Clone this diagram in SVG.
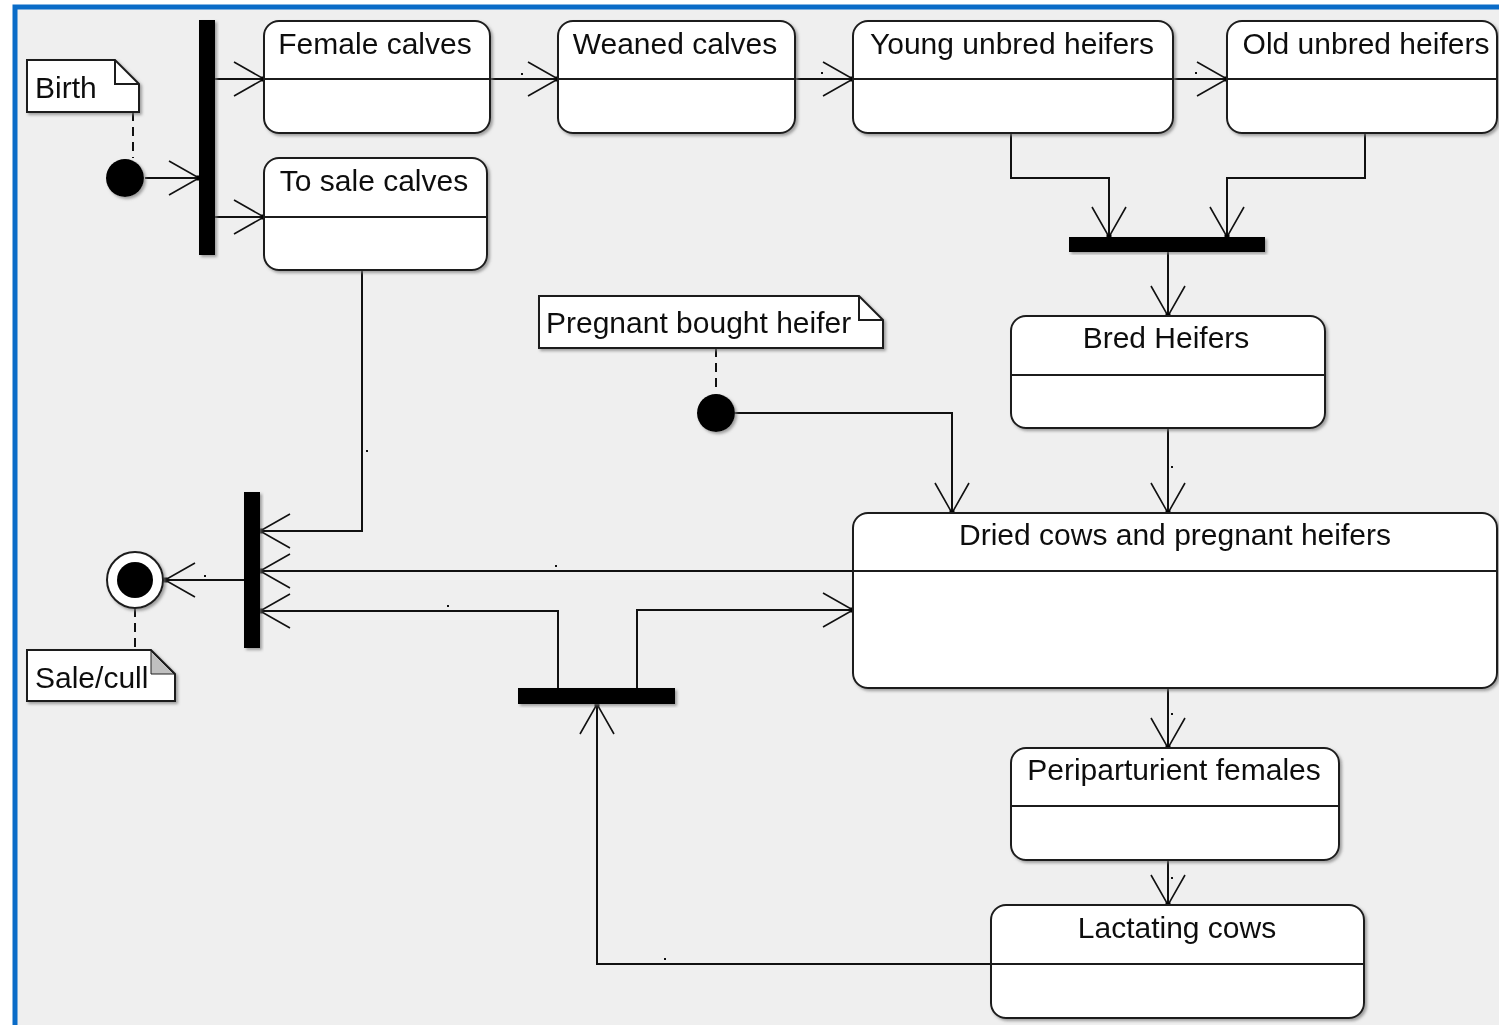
<svg xmlns="http://www.w3.org/2000/svg" width="1499" height="1025" viewBox="0 0 1499 1025">
  <defs>
    <style>
      .frame { fill: #EFEFEF; stroke: #0A6CC8; stroke-width: 5; }
      .box { fill: #FFFFFF; stroke: #1E1E1E; stroke-width: 2; }
      .div { stroke: #1E1E1E; stroke-width: 2; }
      .note { fill: #FFFFFF; stroke: #1E1E1E; stroke-width: 2; stroke-linejoin: miter; }
      .fold { fill: none; stroke: #1E1E1E; stroke-width: 2; }
      .bar { fill: #000000; }
      .lbl { font-family: "Liberation Sans", Arial, sans-serif; font-size: 30px; fill: #111111; }
      .mid { text-anchor: middle; }
      .conn path { fill: none; stroke: #111111; stroke-width: 2; marker-end: url(#open); }
      .anchor path { fill: none; stroke: #111111; stroke-width: 2; stroke-dasharray: 9 6; }
      .tick { fill: #111111; }
    </style>
    <filter id="shadow" x="-10%" y="-10%" width="130%" height="130%">
      <feDropShadow dx="2" dy="2" stdDeviation="1.5" flood-color="#7A7A7A" flood-opacity="0.7"/>
    </filter>
    <marker id="open" markerUnits="userSpaceOnUse" markerWidth="40" markerHeight="40" viewBox="-32 -20 36 40" refX="0" refY="0" orient="auto" overflow="visible">
      <path d="M-30,-17 L0,0 L-30,17" fill="none" stroke="#111111" stroke-width="1.6"/>
      <rect x="-2.5" y="-2.5" width="5" height="5" fill="#000000"/>
    </marker>
  </defs>

  <!-- canvas -->
  <rect x="0" y="0" width="1499" height="1025" fill="#FFFFFF"/>
  <rect class="frame" x="15" y="7" width="1520" height="1060"/>

  <!-- connectors -->
  <g id="connectors">
    <g class="conn">
      <path d="M145,178 H199"/>
      <path d="M215,79 H264"/>
      <path d="M215,217 H264"/>
      <path d="M490,79 H558"/>
      <path d="M795,79 H853"/>
      <path d="M1173,79 H1227"/>
      <path d="M1011,133 V178 H1109 V237"/>
      <path d="M1365,133 V178 H1227 V237"/>
      <path d="M1168,252 V316"/>
      <path d="M1168,428 V513"/>
      <path d="M735,413 H952 V513"/>
      <path d="M1168,688 V748"/>
      <path d="M1168,860 V905"/>
      <path d="M991,964 H597 V704"/>
      <path d="M637,688 V610 H853"/>
      <path d="M558,688 V611 H260"/>
      <path d="M853,571 H260"/>
      <path d="M362,270 V531 H260"/>
      <path d="M244,580 H165"/>
    </g>
    <g class="anchor">
      <path d="M133,112 V158"/>
      <path d="M716,348 V393"/>
      <path d="M135,608 V650"/>
    </g>
    <!-- empty guard labels -->
    <g class="tick">
      <rect x="521" y="73" width="2" height="2"/>
      <rect x="821" y="72" width="2" height="2"/>
      <rect x="1195" y="72" width="2" height="2"/>
      <rect x="366" y="450" width="2" height="2"/>
      <rect x="1171" y="466" width="2" height="2"/>
      <rect x="555" y="565" width="2" height="2"/>
      <rect x="447" y="605" width="2" height="2"/>
      <rect x="204" y="575" width="2" height="2"/>
      <rect x="664" y="958" width="2" height="2"/>
      <rect x="1171" y="713" width="2" height="2"/>
      <rect x="1171" y="877" width="2" height="2"/>
    </g>
  </g>

  <!-- start: birth -->
  <g id="birth-note" filter="url(#shadow)">
    <path class="note" d="M27,60 H115 L139,84 V112 H27 Z"/>
    <path class="fold" d="M115,60 V84 H139"/>
    <text class="lbl" x="35" y="98">Birth</text>
  </g>
  <g id="birth-start" filter="url(#shadow)">
    <circle cx="125" cy="178" r="19" fill="#000000"/>
  </g>
  <g id="birth-fork" filter="url(#shadow)">
    <rect class="bar" x="199" y="20" width="16" height="235"/>
  </g>

  <!-- calf states -->
  <g id="female-calves" filter="url(#shadow)">
    <rect class="box" x="264" y="21" width="226" height="112" rx="15"/>
    <line class="div" x1="264" y1="79" x2="490" y2="79"/>
    <text class="lbl mid" x="375" y="54">Female calves</text>
  </g>
  <g id="to-sale-calves" filter="url(#shadow)">
    <rect class="box" x="264" y="158" width="223" height="112" rx="15"/>
    <line class="div" x1="264" y1="217" x2="487" y2="217"/>
    <text class="lbl mid" x="374" y="191">To sale calves</text>
  </g>
  <g id="weaned-calves" filter="url(#shadow)">
    <rect class="box" x="558" y="21" width="237" height="112" rx="15"/>
    <line class="div" x1="558" y1="79" x2="795" y2="79"/>
    <text class="lbl mid" x="675" y="54">Weaned calves</text>
  </g>
  <g id="young-unbred-heifers" filter="url(#shadow)">
    <rect class="box" x="853" y="21" width="320" height="112" rx="15"/>
    <line class="div" x1="853" y1="79" x2="1173" y2="79"/>
    <text class="lbl mid" x="1012" y="54">Young unbred heifers</text>
  </g>
  <g id="old-unbred-heifers" filter="url(#shadow)">
    <rect class="box" x="1227" y="21" width="270" height="112" rx="15"/>
    <line class="div" x1="1227" y1="79" x2="1497" y2="79"/>
    <text class="lbl mid" x="1366" y="54">Old unbred heifers</text>
  </g>

  <!-- breeding -->
  <g id="breeding-join" filter="url(#shadow)">
    <rect class="bar" x="1069" y="237" width="196" height="15"/>
  </g>
  <g id="bred-heifers" filter="url(#shadow)">
    <rect class="box" x="1011" y="316" width="314" height="112" rx="15"/>
    <line class="div" x1="1011" y1="375" x2="1325" y2="375"/>
    <text class="lbl mid" x="1166" y="348">Bred Heifers</text>
  </g>

  <!-- start: purchase -->
  <g id="bought-note" filter="url(#shadow)">
    <path class="note" d="M539,296 H859 L883,320 V348 H539 Z"/>
    <path class="fold" d="M859,296 V320 H883"/>
    <text class="lbl" x="546" y="333">Pregnant bought heifer</text>
  </g>
  <g id="bought-start" filter="url(#shadow)">
    <circle cx="716" cy="413" r="19" fill="#000000"/>
  </g>

  <!-- cow cycle -->
  <g id="dried-cows" filter="url(#shadow)">
    <rect class="box" x="853" y="513" width="644" height="175" rx="15"/>
    <line class="div" x1="853" y1="571" x2="1497" y2="571"/>
    <text class="lbl mid" x="1175" y="545">Dried cows and pregnant heifers</text>
  </g>
  <g id="periparturient-females" filter="url(#shadow)">
    <rect class="box" x="1011" y="748" width="328" height="112" rx="15"/>
    <line class="div" x1="1011" y1="806" x2="1339" y2="806"/>
    <text class="lbl mid" x="1174" y="780">Periparturient females</text>
  </g>
  <g id="lactating-cows" filter="url(#shadow)">
    <rect class="box" x="991" y="905" width="373" height="113" rx="15"/>
    <line class="div" x1="991" y1="964" x2="1364" y2="964"/>
    <text class="lbl mid" x="1177" y="938">Lactating cows</text>
  </g>
  <g id="lactation-fork" filter="url(#shadow)">
    <rect class="bar" x="518" y="688" width="157" height="16"/>
  </g>

  <!-- exit -->
  <g id="exit-join" filter="url(#shadow)">
    <rect class="bar" x="244" y="492" width="16" height="156"/>
  </g>
  <g id="exit-final" filter="url(#shadow)">
    <circle cx="135" cy="580" r="28" fill="#FFFFFF" stroke="#1E1E1E" stroke-width="2"/>
    <circle cx="135" cy="580" r="18" fill="#000000"/>
  </g>
  <g id="sale-note" filter="url(#shadow)">
    <path class="note" d="M27,650 H151 L175,674 V701 H27 Z"/>
    <path d="M151,651 V674 H174 Z" fill="#C0C0C0" stroke="#1E1E1E" stroke-width="1"/>
    <text class="lbl" x="35" y="688">Sale/cull</text>
  </g>
</svg>
